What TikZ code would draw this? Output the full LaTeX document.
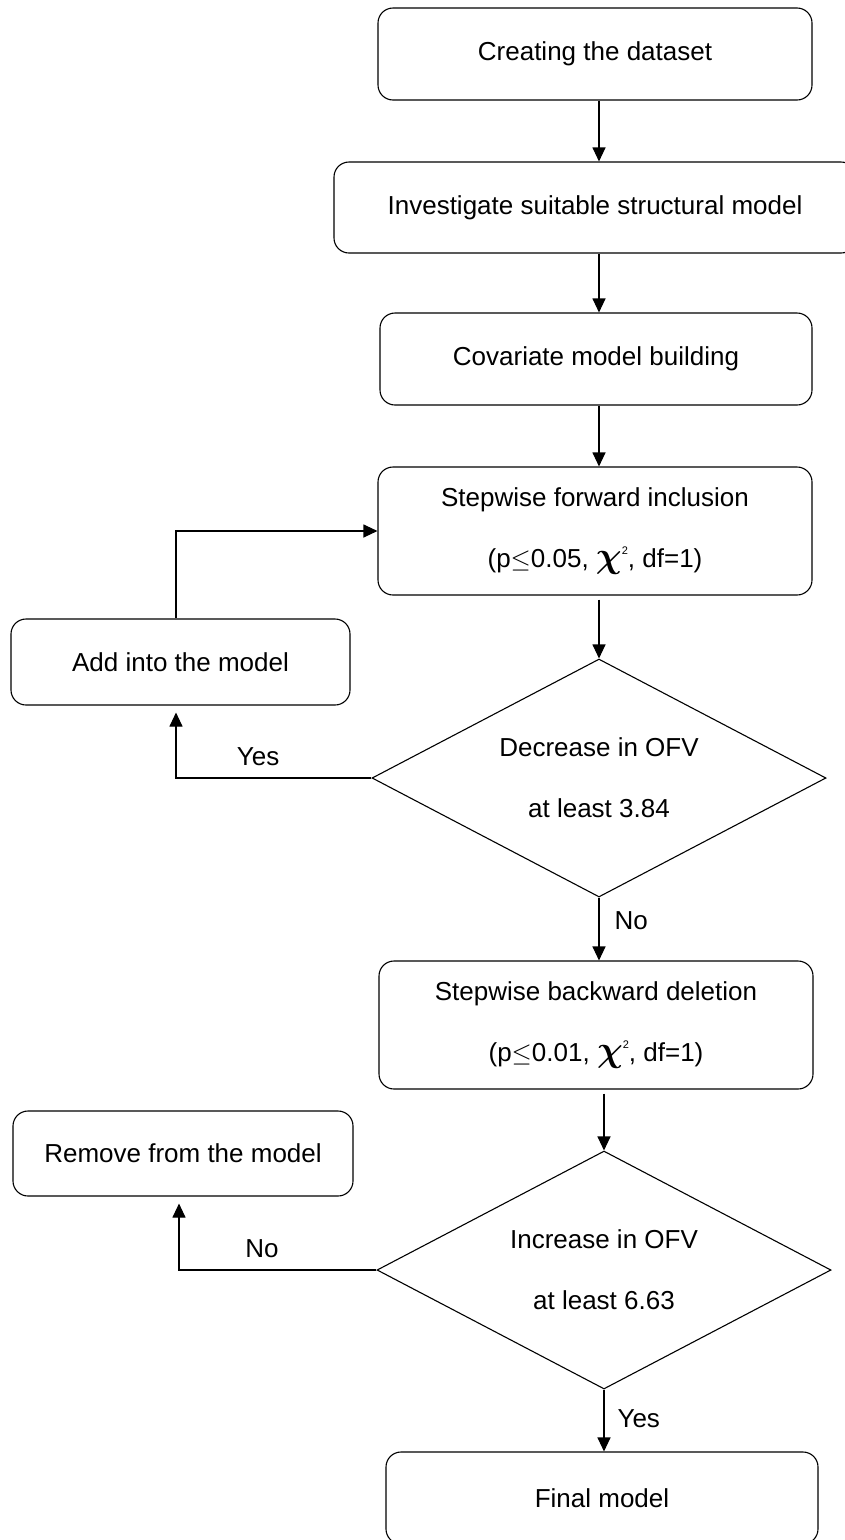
\documentclass[tikz,border=0pt]{standalone}
\usepackage{fix-cm}
\usepackage{bm}
\usepackage{fontspec}
\setmainfont{Liberation Sans}
\usetikzlibrary{shapes.geometric,arrows.meta}

\newcommand{\chideux}{{\fontsize{36}{36}\selectfont$\bm{\chi}$}\raisebox{13pt}{\fontsize{11}{11}\selectfont 2}}

\begin{document}
\begin{tikzpicture}[x=1pt,y=-1pt,line width=1.1pt,
  font=\fontsize{26}{61}\selectfont,
  boite/.style={draw, rounded corners=15pt, align=center, inner sep=0pt},
  losange/.style={draw, diamond, aspect=1.9, align=center, inner sep=0pt,
    minimum width=454pt, minimum height=238pt},
  fleche/.style={-{Triangle[width=13pt,length=14pt]}},
  etiq/.style={inner sep=0pt}]

% Cadre
\useasboundingbox (0,0) rectangle (845,1540);

% Boites
\node[boite, minimum width=434pt, minimum height=92pt] (creer) at (595,54) {Creating the dataset};
\node[boite, minimum width=522pt, minimum height=91pt] (struct) at (595,207.5) {Investigate suitable structural model};
\node[boite, minimum width=432pt, minimum height=92pt] (covar) at (596,359) {Covariate model building};
\node[boite, minimum width=434pt, minimum height=128pt] (avant) at (595,531)
  {Stepwise forward inclusion\\(p$\leq$0.05, \chideux, df=1)};
\node[boite, minimum width=339pt, minimum height=86pt] (ajout) at (180.5,662) {Add into the model};
\node[losange] (baisse) at (599,778) {Decrease in OFV\\at least 3.84};
\node[boite, minimum width=434pt, minimum height=128pt] (arriere) at (596,1025)
  {Stepwise backward deletion\\(p$\leq$0.01, \chideux, df=1)};
\node[boite, minimum width=340pt, minimum height=85pt] (retrait) at (183,1153.5) {Remove from the model};
\node[losange] (hausse) at (604,1270) {Increase in OFV\\at least 6.63};
\node[boite, minimum width=432pt, minimum height=92pt] (final) at (602,1498) {Final model};

% Fleches
\draw[fleche] (creer.south -| baisse.north) -- (struct.north -| baisse.north);
\draw[fleche] (struct.south -| baisse.north) -- (covar.north -| baisse.north);
\draw[fleche] (covar.south -| baisse.north) -- (avant.north -| baisse.north);
\draw[fleche, shorten <=4pt] (avant.south -| baisse.north) -- (baisse.north);
\draw[fleche, shorten >=7pt] (baisse.west) -| ([xshift=-4.5pt]ajout.south)
  node[etiq, pos=0.29, above=12pt] (oui1) {Yes};
\draw[fleche] ([xshift=-4.5pt]ajout.north) |- (avant.west);
\draw[fleche] (baisse.south) -- (arriere.north -| baisse.south)
  node[etiq, pos=0.36, right=15pt] (non1) {No};
\draw[fleche, shorten <=4pt] (arriere.south -| hausse.north) -- (hausse.north);
\draw[fleche, shorten >=7pt] (hausse.west) -| ([xshift=-4pt]retrait.south)
  node[etiq, pos=0.29, above=12pt] (non2) {No};
\draw[fleche] (hausse.south) -- (final.north -| hausse.south)
  node[etiq, pos=0.47, right=13pt] (oui2) {Yes};

\end{tikzpicture}
\end{document}
